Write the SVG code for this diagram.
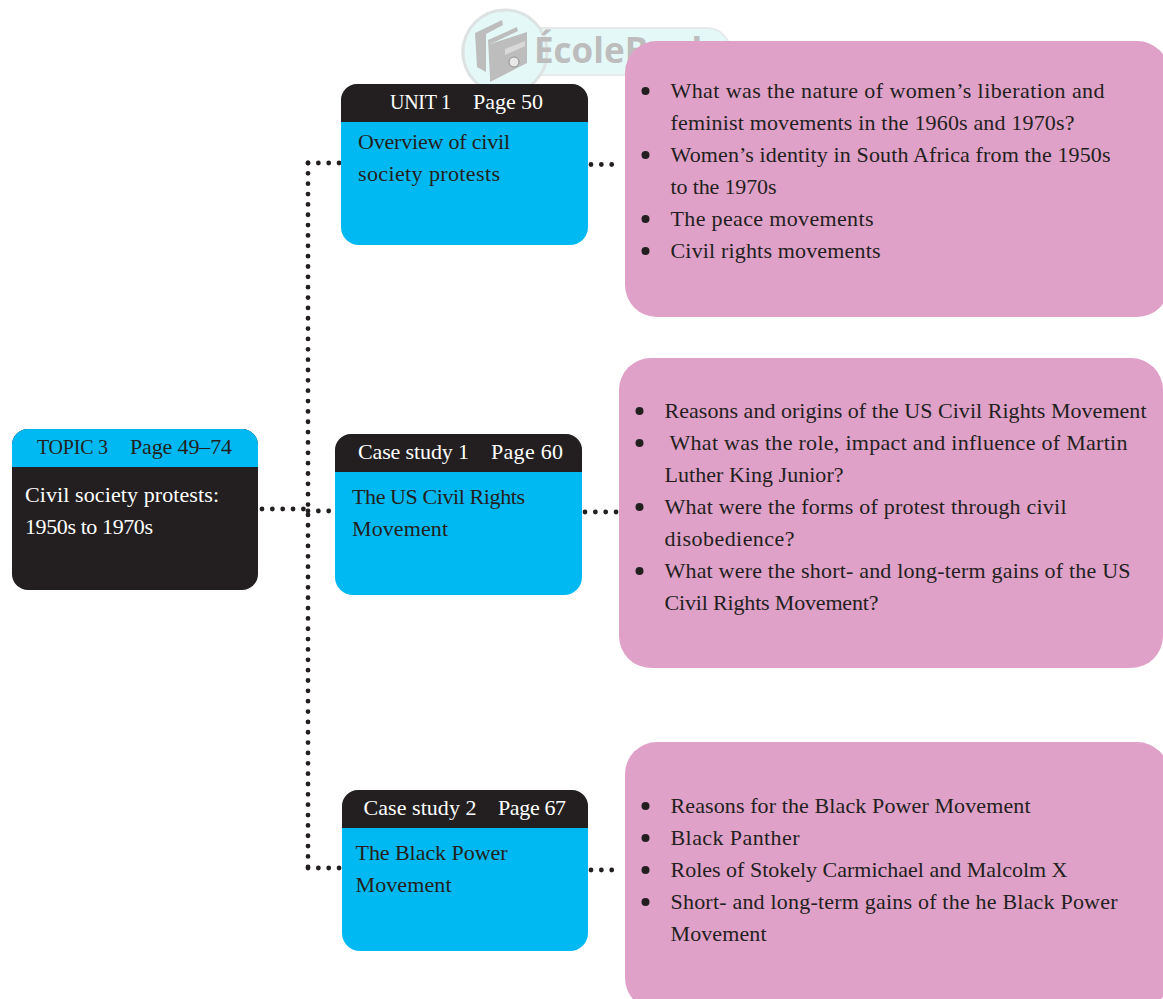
<svg xmlns="http://www.w3.org/2000/svg" width="1163" height="999" viewBox="0 0 1163 999">
<style>
text{font-family:"Liberation Serif","Noto Serif",serif;font-size:22px}
.w{fill:#fff}.d{fill:#231f20}.k{fill:#231f20}.c{fill:#00b9f2}.p{fill:#dfa1c8}
.n{font-size:20px}
.dot{fill:none;stroke:#231f20;stroke-width:4.8;stroke-linecap:round;stroke-dasharray:0 10.35}
</style>
<rect width="1163" height="999" fill="#fff"/>
<g id="watermark">
<rect x="462" y="28" width="268" height="47" rx="23" fill="#e4f8f8" stroke="#e6eaea" stroke-width="2"/>
<circle cx="505" cy="52" r="42" fill="#e4f8f8" stroke="#dde2e2" stroke-width="3"/>
<path d="M475 33L502 20L503 25L486 34V72L477 67Z" fill="#bdbdbd"/>
<path d="M488 40L517 27L518 31L497 41L490 44V78Z" fill="#bdbdbd"/>
<path d="M490 44L527 32V63L490 82Z" fill="#bdbdbd"/>
<path d="M505 49L525 41V46L505 55Z" fill="#d9d9d9"/>
<circle cx="514" cy="62" r="5" fill="#e8e8e8" stroke="#8f8f8f"/>
<text x="534" y="63" style="font-family:'Open Sans','Liberation Sans',sans-serif;font-weight:700;font-size:35px" fill="#bdbdbd">ÉcoleBooks</text>
</g>
<g id="connectors">
<path class="dot" d="M308 163V868"/>
<path class="dot" d="M308 163H341"/>
<path class="dot" d="M308 868H341"/>
<path class="dot" d="M262 509H307"/>
<path class="dot" d="M308 511H331"/>
<path class="dot" d="M591 164.500H621"/>
<path class="dot" d="M585 512H617"/>
<path class="dot" d="M591 870H622"/>
</g>
<g id="topic">
<rect class="d" x="12" y="429" width="246" height="161" rx="16"/>
<path class="c" d="M12 467V445a16 16 0 0 1 16-16H242a16 16 0 0 1 16 16V467Z"/>
<text class="k n" x="37" y="454" textLength="71">TOPIC 3</text><text class="k" x="130" y="454" textLength="102">Page 49–74</text>
<text class="w" x="25" y="502" textLength="194">Civil society protests:</text><text class="w" x="25" y="534" textLength="128">1950s to 1970s</text>
</g>
<g id="unit1">
<rect class="c" x="341" y="84" width="247" height="161" rx="18"/>
<path class="d" d="M341 122V100a16 16 0 0 1 16-16H572a16 16 0 0 1 16 16V122Z"/>
<text class="w n" x="390" y="109" textLength="61">UNIT 1</text><text class="w" x="473" y="109" textLength="70">Page 50</text>
<text class="k" x="358" y="149" textLength="152">Overview of civil</text><text class="k" x="358" y="181" textLength="142">society protests</text>
</g>
<g id="case1">
<rect class="c" x="335" y="434" width="247" height="161" rx="18"/>
<path class="d" d="M335 472V450a16 16 0 0 1 16-16H566a16 16 0 0 1 16 16V472Z"/>
<text class="w" x="358" y="459" textLength="111">Case study 1</text><text class="w" x="491" y="459" textLength="72">Page 60</text>
<text class="k" x="352" y="504" textLength="173">The US Civil Rights</text><text class="k" x="352" y="536" textLength="96">Movement</text>
</g>
<g id="case2">
<rect class="c" x="342" y="790" width="246" height="161" rx="18"/>
<path class="d" d="M342 828V806a16 16 0 0 1 16-16H572a16 16 0 0 1 16 16V828Z"/>
<text class="w" x="363.500" y="815" textLength="113">Case study 2</text><text class="w" x="498" y="815" textLength="68">Page 67</text>
<text class="k" x="355.500" y="860" textLength="152">The Black Power</text><text class="k" x="355.500" y="892" textLength="96">Movement</text>
</g>
<g id="panel1">
<rect class="p" x="625" y="41" width="544" height="276" rx="32"/>
<g class="k"><circle cx="645.500" cy="91" r="4"/><circle cx="645.500" cy="155" r="4"/><circle cx="645.500" cy="219" r="4"/><circle cx="645.500" cy="251" r="4"/></g>
<text class="k" x="670.500" y="98" textLength="434">What was the nature of women’s liberation and</text>
<text class="k" x="670.500" y="130" textLength="404">feminist movements in the 1960s and 1970s?</text>
<text class="k" x="670.500" y="162" textLength="440">Women’s identity in South Africa from the 1950s</text>
<text class="k" x="670.500" y="194" textLength="106">to the 1970s</text>
<text class="k" x="670.500" y="226" textLength="203">The peace movements</text>
<text class="k" x="670.500" y="258" textLength="210">Civil rights movements</text>
</g>
<g id="panel2">
<rect class="p" x="619" y="358" width="544" height="310" rx="32"/>
<g class="k"><circle cx="639.500" cy="411" r="4"/><circle cx="639.500" cy="443" r="4"/><circle cx="639.500" cy="507" r="4"/><circle cx="639.500" cy="571" r="4"/></g>
<text class="k" x="664.500" y="418" textLength="482">Reasons and origins of the US Civil Rights Movement</text>
<text class="k" x="669.500" y="450" textLength="458">What was the role, impact and influence of Martin</text>
<text class="k" x="664.500" y="482" textLength="179">Luther King Junior?</text>
<text class="k" x="664.500" y="514" textLength="402">What were the forms of protest through civil</text>
<text class="k" x="664.500" y="546" textLength="130">disobedience?</text>
<text class="k" x="664.500" y="578" textLength="466">What were the short- and long-term gains of the US</text>
<text class="k" x="664.500" y="610" textLength="214">Civil Rights Movement?</text>
</g>
<g id="panel3">
<rect class="p" x="625" y="742" width="544" height="268" rx="32"/>
<g class="k"><circle cx="645.500" cy="806" r="4"/><circle cx="645.500" cy="838" r="4"/><circle cx="645.500" cy="870" r="4"/><circle cx="645.500" cy="902" r="4"/></g>
<text class="k" x="670.500" y="813" textLength="360">Reasons for the Black Power Movement</text>
<text class="k" x="670.500" y="845" textLength="129">Black Panther</text>
<text class="k" x="670.500" y="877" textLength="397">Roles of Stokely Carmichael and Malcolm X</text>
<text class="k" x="670.500" y="909" textLength="447">Short- and long-term gains of the he Black Power</text>
<text class="k" x="670.500" y="941" textLength="96">Movement</text>
</g>
</svg>
